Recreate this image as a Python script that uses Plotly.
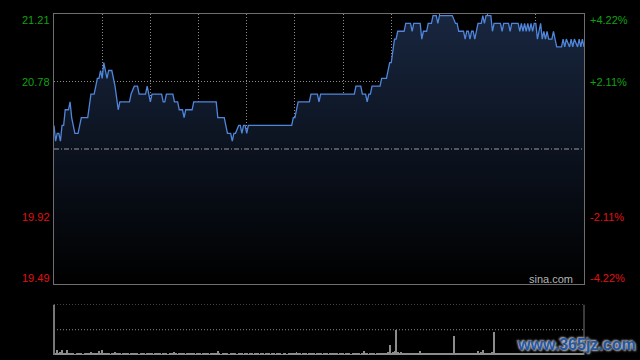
import plotly.graph_objects as go

# ---------------- data ----------------
# intraday minutes since open (HK session, 330 minutes) and prices
t_min = [0, 1, 2, 3, 4, 5, 6, 7, 9, 10, 11, 13, 15, 17, 21, 23, 25, 27, 28, 29,
         30, 31, 32, 33, 34, 36, 38, 40, 41, 47, 48, 50, 52, 53, 57, 58, 60, 61, 67, 68,
         69, 70, 74, 75, 77, 78, 80, 81, 82, 86, 87, 101, 102, 106, 108, 110, 111, 112, 113, 115,
         116, 117, 118, 119, 120, 121, 148, 149, 150, 152, 159, 160, 164, 165, 166, 187, 188, 191, 192, 194,
         195, 196, 197, 198, 203, 204, 207, 209, 210, 212, 213, 214, 218, 219, 222, 223, 224, 228, 229, 230,
         232, 233, 235, 236, 238, 239, 240, 248, 250, 251, 252, 255, 256, 257, 258, 259, 260, 261, 262, 263,
         264, 266, 267, 268, 269, 271, 272, 273, 274, 278, 279, 280, 283, 284, 285, 289, 290, 291, 292, 293,
         294, 295, 296, 297, 298, 299, 300, 301, 302, 303, 304, 305, 306, 307, 308, 310, 311, 312, 313, 316,
         317, 318, 319, 321, 322, 323, 324, 326, 327, 328, 329, 330]
price = [20.50, 20.40, 20.45, 20.45, 20.40, 20.50, 20.50, 20.60, 20.60, 20.65, 20.55, 20.45, 20.45, 20.55, 20.55, 20.70, 20.70, 20.80, 20.80, 20.85,
         20.80, 20.90, 20.85, 20.80, 20.85, 20.85, 20.75, 20.60, 20.65, 20.65, 20.70, 20.75, 20.75, 20.70, 20.70, 20.75, 20.65, 20.70, 20.70, 20.65,
         20.65, 20.70, 20.70, 20.65, 20.65, 20.60, 20.60, 20.55, 20.60, 20.60, 20.65, 20.65, 20.55, 20.55, 20.45, 20.45, 20.40, 20.45, 20.45, 20.50,
         20.50, 20.45, 20.50, 20.50, 20.45, 20.50, 20.50, 20.55, 20.55, 20.65, 20.65, 20.70, 20.70, 20.65, 20.70, 20.70, 20.75, 20.75, 20.70, 20.70,
         20.65, 20.70, 20.70, 20.75, 20.75, 20.80, 20.80, 20.90, 20.90, 21.05, 21.05, 21.10, 21.10, 21.15, 21.15, 21.10, 21.15, 21.15, 21.05, 21.10,
         21.10, 21.15, 21.15, 21.20, 21.20, 21.15, 21.20, 21.20, 21.15, 21.15, 21.10, 21.10, 21.05, 21.10, 21.10, 21.05, 21.10, 21.10, 21.05, 21.10,
         21.15, 21.15, 21.20, 21.15, 21.20, 21.20, 21.20, 21.10, 21.15, 21.15, 21.10, 21.15, 21.15, 21.10, 21.15, 21.15, 21.10, 21.15, 21.10, 21.15,
         21.10, 21.15, 21.10, 21.15, 21.10, 21.15, 21.15, 21.05, 21.10, 21.15, 21.05, 21.10, 21.05, 21.10, 21.05, 21.05, 21.10, 21.05, 21.00, 21.00,
         21.05, 21.00, 21.05, 21.00, 21.05, 21.00, 21.05, 21.00, 21.05, 21.00, 21.05, 21.00]

# per-minute volume (relative units, panel top = 100)
volume = [10, 3, 8, 2, 4, 9, 3, 2, 9, 2, 3, 2, 2, 1, 2, 3, 2, 2, 1, 3, 2, 2, 2, 4, 2, 2, 3, 2, 7, 2,
          9, 2, 3, 2, 2, 1, 2, 2, 5, 2, 3, 2, 1, 2, 2, 2, 3, 1, 2, 2, 2, 3, 2, 1, 2, 2, 2, 1, 2, 3,
          2, 2, 1, 2, 2, 3, 2, 1, 2, 2, 2, 1, 2, 2, 2, 5, 2, 1, 2, 3, 2, 2, 1, 2, 2, 2, 3, 2, 1, 2,
          2, 2, 1, 2, 2, 2, 3, 1, 2, 2, 2, 2, 7, 2, 1, 2, 3, 2, 2, 1, 2, 2, 2, 3, 1, 2, 2, 2, 1, 2,
          2, 1, 2, 2, 1, 2, 2, 2, 1, 2, 2, 1, 2, 2, 2, 1, 2, 2, 1, 2, 2, 2, 1, 2, 2, 1, 2, 2, 2, 3,
          2, 5, 2, 2, 1, 2, 2, 2, 1, 2, 3, 2, 2, 1, 2, 2, 2, 1, 2, 2, 2, 1, 2, 2, 2, 3, 2, 1, 2, 2,
          2, 1, 2, 2, 2, 1, 2, 2, 3, 2, 2, 1, 2, 7, 2, 2, 1, 2, 2, 2, 1, 2, 3, 2, 2, 2, 3, 2, 4, 19,
          3, 4, 6, 49, 5, 3, 4, 2, 3, 2, 3, 2, 2, 3, 2, 2, 3, 2, 6, 2, 2, 3, 2, 2, 3, 2, 2, 3, 2, 2,
          2, 3, 2, 2, 2, 3, 2, 2, 3, 36, 3, 2, 2, 3, 2, 2, 2, 3, 2, 2, 3, 2, 3, 2, 7, 3, 4, 8, 3, 2,
          3, 2, 3, 4, 44, 3, 2, 3, 2, 2, 3, 2, 2, 3, 2, 2, 3, 2, 2, 3, 2, 2, 3, 2, 2, 3, 2, 2, 3, 2,
          2, 3, 2, 2, 3, 2, 2, 3, 2, 2, 3, 2, 2, 3, 2, 2, 3, 2, 2, 3, 2, 2, 3, 2, 2, 3, 2, 2, 3, 2, 2]
vol_minutes = list(range(len(volume)))

prev_close = 20.35
y_lo, y_hi = 19.49, 21.21
price_ticks = [21.21, 20.78, 19.92, 19.49]
price_labels = ["21.21", "20.78", "19.92", "19.49"]
pct_labels = ["+4.22%", "+2.11%", "-2.11%", "-4.22%"]
grid_minutes = [30, 60, 90, 120, 150, 180, 210, 240, 270, 300]

GREEN = "#11a011"
RED = "#e01010"
GRID = "#8c8c8c"
FRAME = "#6e6e6e"

fig = go.Figure()
fig.add_trace(go.Scatter(
    x=t_min, y=price, mode="lines",
    line=dict(color="#4f86dc", width=1.3),
    fill="tozeroy",
    fillgradient=dict(type="vertical",
                      colorscale=[[0, "#000000"], [1, "#18263f"]],
                      start=y_lo, stop=y_hi),
    xaxis="x", yaxis="y", hoverinfo="skip"))
fig.add_trace(go.Bar(
    x=vol_minutes, y=volume, width=0.6,
    marker=dict(color="#8c8c8c", line=dict(width=0)),
    xaxis="x2", yaxis="y2", hoverinfo="skip"))

fig.update_layout(
    width=640, height=360,
    margin=dict(l=54, r=56, t=14, b=5),
    paper_bgcolor="black", plot_bgcolor="black",
    showlegend=False, bargap=0,
    font=dict(family="Liberation Sans, Arial, sans-serif"),
    xaxis=dict(domain=[0, 1], range=[0, 330], anchor="y",
               tickvals=grid_minutes, showgrid=True, gridcolor=GRID,
               griddash="1px,2px", gridwidth=1, showticklabels=False,
               ticks="", showline=True, linecolor=FRAME, linewidth=1,
               mirror=True, zeroline=False),
    yaxis=dict(domain=[0.2082, 1], range=[y_lo, y_hi], anchor="x",
               tickvals=[19.92, 20.78], showgrid=True, gridcolor=GRID,
               griddash="1px,2px", gridwidth=1, showticklabels=False,
               ticks="", showline=True, linecolor=FRAME, linewidth=1,
               mirror=True, zeroline=False),
    xaxis2=dict(domain=[0, 1], range=[0, 330], anchor="y2",
                showgrid=False, showticklabels=False, ticks="",
                showline=False, zeroline=False),
    yaxis2=dict(domain=[0, 0.1481], range=[0, 100], anchor="x2",
                showgrid=False, showticklabels=False, ticks="",
                showline=False, zeroline=False),
)

shapes = [
    dict(type="line", xref="x domain", yref="y", x0=0, x1=1,
         y0=prev_close, y1=prev_close,
         line=dict(color="#9a9a9a", width=1, dash="5px,2px,1px,2px")),
    dict(type="line", xref="x2 domain", yref="y2", x0=0, x1=1, y0=100, y1=100,
         line=dict(color=GRID, width=1, dash="1px,2px")),
    dict(type="line", xref="x2 domain", yref="y2", x0=0, x1=1, y0=50, y1=50,
         line=dict(color=GRID, width=1, dash="1px,2px")),
    dict(type="line", xref="x2 domain", yref="y2", x0=0, x1=0, y0=0, y1=100,
         line=dict(color="#777777", width=2)),
    dict(type="line", xref="x2 domain", yref="y2", x0=1, x1=1, y0=0, y1=100,
         line=dict(color="#777777", width=1)),
]
fig.update_layout(shapes=shapes)

annotations = []
shifts = [-6, 0, 0, 6]
for i, (v, lab, pct) in enumerate(zip(price_ticks, price_labels, pct_labels)):
    col = GREEN if v > prev_close else RED
    annotations.append(dict(xref="paper", yref="y", x=0, y=v, text=lab,
                            showarrow=False, xanchor="right", yanchor="middle",
                            xshift=-2, yshift=shifts[i],
                            font=dict(size=11, color=col)))
    annotations.append(dict(xref="paper", yref="y", x=1, y=v, text=pct,
                            showarrow=False, xanchor="left", yanchor="middle",
                            xshift=4, yshift=shifts[i],
                            font=dict(size=11, color=col)))
annotations.append(dict(xref="paper", yref="y", x=1, y=y_lo, text="sina.com",
                        showarrow=False, xanchor="right", yanchor="middle",
                        xshift=-9, yshift=5,
                        font=dict(size=11, color="#b4b4b4")))
annotations.append(dict(xref="paper", yref="paper", x=0.985, y=0.032,
                        text="<b>www.365jz.com</b>", showarrow=False,
                        xanchor="center", yanchor="middle",
                        font=dict(size=16, color="#2356a6",
                                  family="Liberation Sans, Arial, sans-serif",
                                  shadow="1px 1px 2px #d0d0d0, -1px -1px 2px #d0d0d0")))
fig.update_layout(annotations=annotations)

fig.write_html("out.html")
